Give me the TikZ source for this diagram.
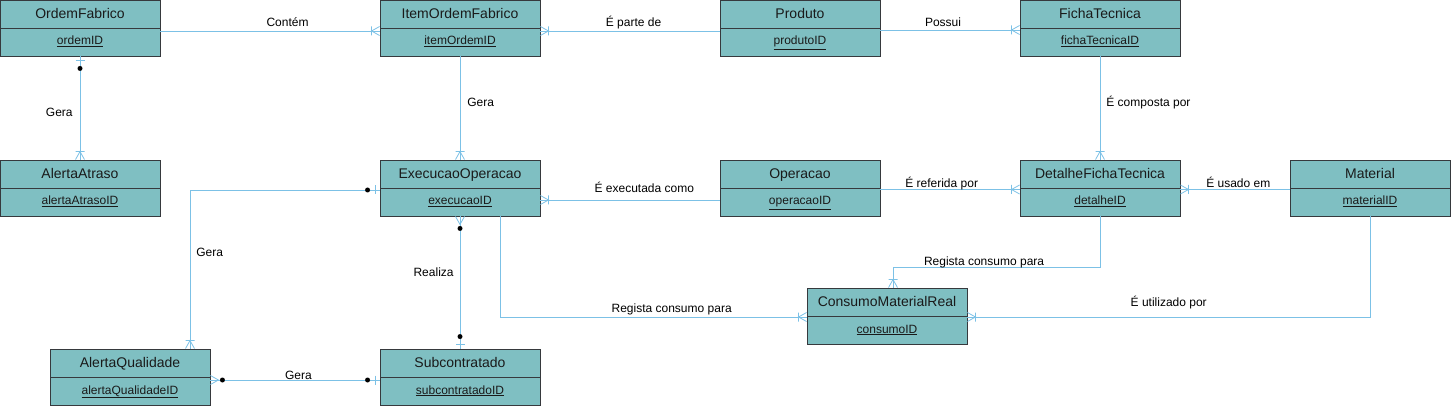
\documentclass[tikz,border=0pt]{standalone}
\usepackage{fontspec}
\setmainfont{Liberation Sans}
\usepackage{xcolor}
\usetikzlibrary{arrows.meta,positioning}
\definecolor{erfill}{HTML}{7FBFC2}
\definecolor{erborder}{HTML}{36393D}
\definecolor{erlink}{HTML}{7CC1E6}
\definecolor{ertext}{HTML}{1A1A1A}

% crow's foot ends (tip sits on the entity border)
\pgfdeclarearrow{
  name = ER one many,
  setup code = {
    \pgfarrowssettipend{0pt}
    \pgfarrowssetlineend{0pt}
    \pgfarrowssetbackend{-9pt}
    \pgfarrowsupperhullpoint{0pt}{4.5pt}
    \pgfarrowsupperhullpoint{-9pt}{4.5pt}
  },
  drawing code = {
    \pgfsetdash{}{0pt}
    \pgfpathmoveto{\pgfqpoint{0pt}{4.5pt}}
    \pgfpathlineto{\pgfqpoint{-8pt}{0pt}}
    \pgfpathlineto{\pgfqpoint{0pt}{-4.5pt}}
    \pgfpathmoveto{\pgfqpoint{-8pt}{4.5pt}}
    \pgfpathlineto{\pgfqpoint{-8pt}{-4.5pt}}
    \pgfusepathqstroke
  }
}
\pgfdeclarearrow{
  name = ER zero many,
  setup code = {
    \pgfarrowssettipend{0pt}
    \pgfarrowssetlineend{0pt}
    \pgfarrowssetbackend{-15pt}
    \pgfarrowsupperhullpoint{0pt}{4.5pt}
    \pgfarrowsupperhullpoint{-15pt}{4.5pt}
  },
  drawing code = {
    \pgfsetdash{}{0pt}
    \pgfpathmoveto{\pgfqpoint{0pt}{4.5pt}}
    \pgfpathlineto{\pgfqpoint{-8pt}{0pt}}
    \pgfpathlineto{\pgfqpoint{0pt}{-4.5pt}}
    \pgfusepathqstroke
    \pgfsetfillcolor{black}
    \pgfpathcircle{\pgfqpoint{-12pt}{0pt}}{2.5pt}
    \pgfusepathqfill
  }
}
\pgfdeclarearrow{
  name = ER zero one,
  setup code = {
    \pgfarrowssettipend{0pt}
    \pgfarrowssetlineend{0pt}
    \pgfarrowssetbackend{-15pt}
    \pgfarrowsupperhullpoint{0pt}{4.5pt}
    \pgfarrowsupperhullpoint{-15pt}{4.5pt}
  },
  drawing code = {
    \pgfsetdash{}{0pt}
    \pgfpathmoveto{\pgfqpoint{-4pt}{4.5pt}}
    \pgfpathlineto{\pgfqpoint{-4pt}{-4.5pt}}
    \pgfusepathqstroke
    \pgfsetfillcolor{black}
    \pgfpathcircle{\pgfqpoint{-12pt}{0pt}}{2.5pt}
    \pgfusepathqfill
  }
}

\begin{document}
\begin{tikzpicture}[
        x=1pt, y=1pt,
        entity/.style={
            draw=erborder,
            fill=erfill,
            line width=0.9pt,
            minimum width=160pt,
            minimum height=56pt,
            inner sep=0pt,
            path picture={\draw[erborder, line width=0.9pt]
                (path picture bounding box.west) -- (path picture bounding box.east);}
        },
        enttitle/.style={text=ertext, font=\fontsize{14}{16}\selectfont,
            inner sep=0pt, text height=10pt, text depth=3pt},
        entkey/.style={text=ertext, font=\fontsize{12}{14}\selectfont,
            inner sep=0pt, text height=9pt, text depth=3pt},
        rel/.style={draw=erlink, line width=0.8pt},
        lbl/.style={text=black, font=\fontsize{12}{14}\selectfont,
            inner sep=0pt, text height=9pt, text depth=2.5pt}
    ]
        \useasboundingbox (0,0) rectangle (1451,-406);

        % entities
        \node[entity] (ordem) at (80,-28) {};
        \node[enttitle] (ordemT) at ([yshift=13pt]ordem.center) {OrdemFabrico};
        \node[entkey] (ordemK) at ([yshift=-14pt]ordem.center) {\underline{ordemID}};

        \node[entity] (item) at (460,-28) {};
        \node[enttitle] (itemT) at ([yshift=13pt]item.center) {ItemOrdemFabrico};
        \node[entkey] (itemK) at ([yshift=-14pt]item.center) {\underline{itemOrdemID}};

        \node[entity] (produto) at (800,-28) {};
        \node[enttitle] (produtoT) at ([yshift=13pt]produto.center) {Produto};
        \node[entkey] (produtoK) at ([yshift=-14pt]produto.center) {\underline{produtoID}};

        \node[entity] (ficha) at (1100,-28) {};
        \node[enttitle] (fichaT) at ([yshift=13pt]ficha.center) {FichaTecnica};
        \node[entkey] (fichaK) at ([yshift=-14pt]ficha.center) {\underline{fichaTecnicaID}};

        \node[entity] (atraso) at (80,-188) {};
        \node[enttitle] (atrasoT) at ([yshift=13pt]atraso.center) {AlertaAtraso};
        \node[entkey] (atrasoK) at ([yshift=-14pt]atraso.center) {\underline{alertaAtrasoID}};

        \node[entity] (execucao) at (460,-188) {};
        \node[enttitle] (execucaoT) at ([yshift=13pt]execucao.center) {ExecucaoOperacao};
        \node[entkey] (execucaoK) at ([yshift=-14pt]execucao.center) {\underline{execucaoID}};

        \node[entity] (operacao) at (800,-188) {};
        \node[enttitle] (operacaoT) at ([yshift=13pt]operacao.center) {Operacao};
        \node[entkey] (operacaoK) at ([yshift=-14pt]operacao.center) {\underline{operacaoID}};

        \node[entity] (detalhe) at (1100,-188) {};
        \node[enttitle] (detalheT) at ([yshift=13pt]detalhe.center) {DetalheFichaTecnica};
        \node[entkey] (detalheK) at ([yshift=-14pt]detalhe.center) {\underline{detalheID}};

        \node[entity] (material) at (1370,-188) {};
        \node[enttitle] (materialT) at ([yshift=13pt]material.center) {Material};
        \node[entkey] (materialK) at ([yshift=-14pt]material.center) {\underline{materialID}};

        \node[entity] (consumo) at (887,-316) {};
        \node[enttitle] (consumoT) at ([yshift=13pt]consumo.center) {ConsumoMaterialReal};
        \node[entkey] (consumoK) at ([yshift=-14pt]consumo.center) {\underline{consumoID}};

        \node[entity] (qualidade) at (130,-377) {};
        \node[enttitle] (qualidadeT) at ([yshift=13pt]qualidade.center) {AlertaQualidade};
        \node[entkey] (qualidadeK) at ([yshift=-14pt]qualidade.center) {\underline{alertaQualidadeID}};

        \node[entity] (sub) at (460,-377) {};
        \node[enttitle] (subT) at ([yshift=13pt]sub.center) {Subcontratado};
        \node[entkey] (subK) at ([yshift=-14pt]sub.center) {\underline{subcontratadoID}};

        % relationships
        \draw[rel, -{ER one many}] ([yshift=-3pt]ordem.east) --
            node[lbl, pos=.58, above, yshift=2pt]{Contém} ([yshift=-3pt]item.west);
        \draw[rel, -{ER one many}] ([yshift=-3pt]produto.west) --
            node[lbl, pos=.48, above, yshift=2pt]{É parte de} ([yshift=-3pt]item.east);
        \draw[rel, -{ER one many}] ([yshift=-2pt]produto.east) --
            node[lbl, pos=.45, above, yshift=1pt]{Possui} ([yshift=-2pt]ficha.west);
        \draw[rel, -{ER one many}] (ficha.south) --
            node[lbl, pos=.45, right=6pt]{É composta por} (detalhe.north);
        \draw[rel, {ER zero one}-{ER one many}] (ordem.south) --
            node[lbl, pos=.55, left=7pt]{Gera} (atraso.north);
        \draw[rel, -{ER one many}] (item.south) --
            node[lbl, pos=.45, right=7pt]{Gera} (execucao.north);
        \draw[rel, -{ER one many}] ([yshift=-12pt]operacao.west) --
            node[lbl, pos=.42, above, yshift=5pt]{É executada como} ([yshift=-12pt]execucao.east);
        \draw[rel, -{ER one many}] ([yshift=-1.5pt]operacao.east) --
            node[lbl, pos=.44, above, yshift=-1pt]{É referida por} ([yshift=-1.5pt]detalhe.west);
        \draw[rel, -{ER one many}] ([yshift=-1.5pt]material.west) --
            node[lbl, pos=.47, above, yshift=-1pt]{É usado em} ([yshift=-1.5pt]detalhe.east);
        \draw[rel, {ER zero one}-{ER one many}] ([yshift=-2pt]execucao.west) -|
            node[lbl, pos=.7, right=6pt]{Gera} ([xshift=60pt]qualidade.north);
        \draw[rel, {ER zero many}-{ER zero one}] (execucao.south) --
            node[lbl, pos=.43, left=6pt]{Realiza} (sub.north);
        \draw[rel, {ER zero many}-{ER zero one}] ([yshift=-3pt]qualidade.east) --
            node[lbl, pos=.52, above, yshift=-2pt]{Gera} ([yshift=-3pt]sub.west);
        \draw[rel, -{ER one many}] ([xshift=40pt]execucao.south) |-
            node[lbl, pos=.78, above, yshift=2pt]{Regista consumo para} ([yshift=-1pt]consumo.west);
        \draw[rel, -{ER one many}] (detalhe.south) -- ++(0,-51) -|
            node[lbl, pos=.28, above, yshift=-1pt]{Regista consumo para} ([xshift=6pt]consumo.north);
        \draw[rel, -{ER one many}] (material.south) |-
            node[lbl, pos=.75, above, yshift=8pt]{É utilizado por} ([yshift=-1pt]consumo.east);
    \end{tikzpicture}
\end{document}
